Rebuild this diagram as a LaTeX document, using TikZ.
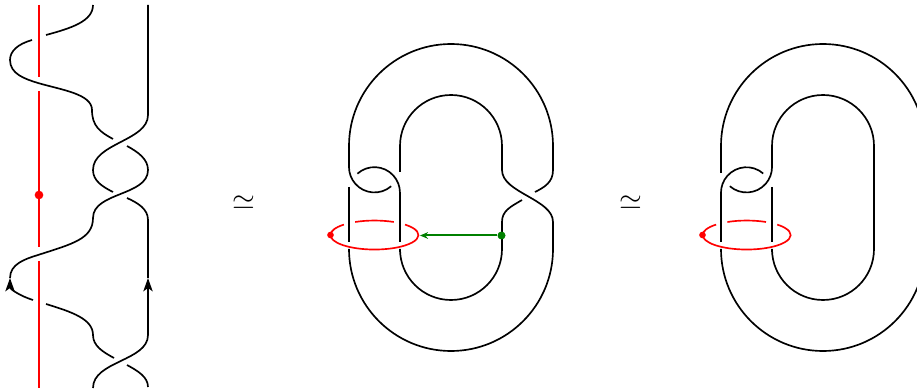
\documentclass[tikz,border=0pt]{standalone}
\usepackage{amsmath,amssymb}
\usepackage{xcolor}
\usetikzlibrary{arrows.meta}
\definecolor{knotgreen}{RGB}{0,128,0}
\tikzset{
  strand/.style={line width=1.25pt, black},
  redstrand/.style={line width=1.25pt, red},
  arrowed/.style={-{Stealth[length=10pt, width=7pt, inset=2.5pt]}},
  reddot/.style={circle, fill=red, inner sep=0pt, minimum size=#1},
  greendot/.style={circle, fill=knotgreen, inner sep=0pt, minimum size=6pt},
  equiv/.style={scale=2.2},
}
\begin{document}
\begin{tikzpicture}[x=0.75pt, y=0.75pt]
\clip (0,0) rectangle (917,389);
% left braid
\draw[redstrand] (39,384) -- (39,312);
\draw[redstrand] (39,298) -- (39,142);
\draw[redstrand] (39,128) -- (39,1);
\node (mark) [reddot=6.5pt] at (39,194) {};
\draw[strand] (93,384) .. controls (93,368) and (72,361) .. (46,354);
\draw[strand] (32,349) .. controls (18,345) and (10,338) .. (10,329) .. controls (10,315) and (25,310) .. (38,306) .. controls (62,299) and (92,295) .. (92,279) .. controls (92,263) and (100,257) .. (113,250);
\draw[strand] (148,384) -- (148,274) .. controls (148,248) and (93,246) .. (93,219) .. controls (93,208) and (103,202) .. (113,197);
\draw[strand] (127,243) .. controls (138,237) and (148,230) .. (148,219) .. controls (148,193) and (93,197) .. (93,171) .. controls (93,150) and (72,145) .. (38,134) .. controls (25,130) and (10,125) .. (10,111);
\draw[strand, arrowed] (33,89) .. controls (20,93) and (10,100) .. (10,111);
\draw[strand] (127,191) .. controls (138,186) and (148,180) .. (148,169) -- (148,111);
\draw[strand, arrowed] (148,54) -- (148,111);
\draw[strand] (148,54) .. controls (148,28) and (93,28) .. (93,1);
\draw[strand] (46,85) .. controls (72,77) and (93,70) .. (93,54) .. controls (93,43) and (103,37) .. (114,31);
\draw[strand] (127,24) .. controls (138,18) and (148,12) .. (148,2);
\node (eqa) [equiv] at (244,186) {$\simeq$};
% middle knot
\draw[strand] (391.2,202.8) arc (311:180:25.5) -- (349,243) arc (180:0:102) -- (553,219) .. controls (553,207) and (545,202) .. (535,197);
\draw[strand] (400,217) -- (400,243) arc (180:0:51) -- (502,219) .. controls (502,196) and (553,190) .. (553,167) -- (553,140) arc (0:-180:102) -- (349,137);
\draw[strand] (522,189) .. controls (510,182) and (502,178) .. (502,167) -- (502,140) arc (0:-180:51) -- (400,137);
\draw[strand] (357.4,215.3) arc (132:0:25.5) -- (400,147);
\draw[strand] (349,202) -- (349,147);
\draw[redstrand] (343.9,164.4) arc (134:406:44 and 14.5);
\draw[redstrand] (355.2,167) arc (116:64:44 and 14.5);
\node (ptm) [reddot=5pt] at (330.5,154) {};
\node (gstart) [greendot] at (501.5,153.5) {};
\coordinate (gend) at (420,153.5);
\draw[knotgreen, line width=1.5pt, -{Stealth[length=6pt, width=5pt]}] (gstart) -- (gend);
\node (eqb) [equiv] at (631,186) {$\simeq$};
% right knot
\draw[strand] (721,216) -- (721,243) arc (180:0:102) -- (925,140) arc (0:-180:102) -- (721,137);
\draw[strand] (729.8,202.8) arc (229:360:25.5) -- (772,243) arc (180:0:51) -- (874,140) arc (0:-180:51) -- (772,137);
\draw[strand] (763.2,215.5) arc (49:180:25.5) -- (721,147);
\draw[strand] (772,202) -- (772,147);
\draw[redstrand] (716.1,164.4) arc (134:406:44 and 14.5);
\draw[redstrand] (727.4,167) arc (116:64:44 and 14.5);
\node (ptr) [reddot=5pt] at (702.5,154) {};
\end{tikzpicture}
\end{document}
